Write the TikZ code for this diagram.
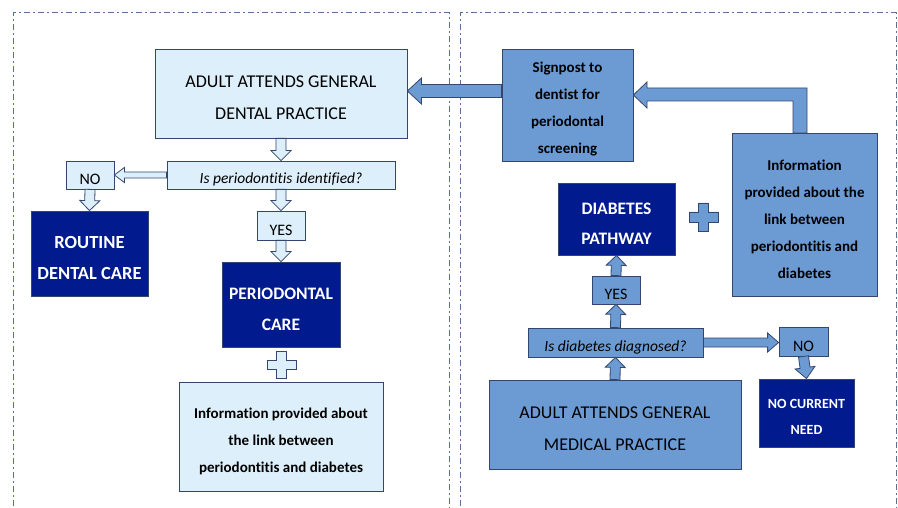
\documentclass[tikz,border=0pt]{standalone}
\usepackage{fontspec}
\setmainfont{Carlito}[Ligatures={NoCommon}]
\usetikzlibrary{calc}
\definecolor{lightfill}{HTML}{DDEFFA}
\definecolor{midfill}{HTML}{6C9BD3}
\definecolor{navyfill}{HTML}{011A8E}
\definecolor{boxline}{HTML}{34466E}
\definecolor{frameline}{HTML}{5A6E9A}
\newcommand{\blockarrow}[6]{% style, start, end, shaft half, head half, head length
  \draw[#1] let \p1=($(#3)!#6!(#2)$) in
    ($(#2)!#4!90:(#3)$) -- ($(\p1)!#4!90:(#3)$) -- ($(\p1)!#5!90:(#3)$) -- (#3)
    -- ($(\p1)!#5!-90:(#3)$) -- ($(\p1)!#4!-90:(#3)$) -- ($(#2)!#4!-90:(#3)$) -- cycle;}
\tikzset{
  x=1pt, y=-1pt,
  box/.style={draw=boxline, line width=0.8pt, inner sep=0pt},
  lbox/.style={box, fill=lightfill},
  mbox/.style={box, fill=midfill},
  nbox/.style={box, fill=navyfill},
  boxtext/.style={align=center, inner sep=0pt, yshift=-4.5pt},
  bigtxt/.style={font=\fontsize{18}{32}\selectfont},
  navytxt/.style={text=white, font=\bfseries\fontsize{17.5}{31}\selectfont},
  qtxt/.style={font=\itshape\fontsize{15.5}{16}\selectfont},
  yntxt/.style={font=\fontsize{16}{16}\selectfont},
  infotxt/.style={font=\bfseries\fontsize{15}{27}\selectfont},
  larrow/.style={draw=boxline, line width=0.8pt, fill=lightfill},
  marrow/.style={draw=boxline, line width=0.8pt, fill=midfill},
  frame/.style={draw=frameline, line width=1pt, dash pattern=on 6pt off 3pt on 2pt off 3pt},
}
\begin{document}
\begin{tikzpicture}
\useasboundingbox (0,0) rectangle (898,508);
\clip (0,0) rectangle (898,508);
\fill[white] (0,0) rectangle (898,508);
% frames
\draw[frame] (13,520) -- (13,13) -- (449,13) -- (449,520);
\draw[frame] (460,520) -- (460,13) -- (896,13) -- (896,520);

% left panel
\node[lbox, minimum width=252pt, minimum height=89pt] (dental) at (281,93.5) {};
\node[boxtext, bigtxt] (dentalT) at (dental) {ADULT ATTENDS GENERAL\\DENTAL PRACTICE};
\node[lbox, minimum width=228pt, minimum height=28pt] (q1) at (281,175) {};
\node[boxtext, qtxt] (q1T) at (q1) {Is periodontitis identified?};
\node[lbox, minimum width=48pt, minimum height=28pt] (no1) at (90,175) {};
\node[boxtext, yntxt] (no1T) at (no1) {NO};
\node[nbox, minimum width=117pt, minimum height=85pt] (routine) at (89.5,253.5) {};
\node[boxtext, navytxt, font=\bfseries\fontsize{18.5}{31}\selectfont] (routineT) at (routine) {ROUTINE\\DENTAL CARE};
\node[lbox, minimum width=48pt, minimum height=29pt] (yes1) at (281,225.5) {};
\node[boxtext, yntxt] (yes1T) at (yes1) {YES};
\node[nbox, minimum width=118pt, minimum height=85pt] (perio) at (281,304.5) {};
\node[boxtext, navytxt] (perioT) at (perio) {PERIODONTAL\\CARE};
\node[lbox, minimum width=204pt, minimum height=109pt] (info1) at (281,436.5) {};
\node[boxtext, infotxt] (info1T) at (info1) {Information provided about\\the link between\\periodontitis and diabetes};
\draw[larrow] (276.5,351) -- (286.5,351) -- (286.5,360) -- (296,360) -- (296,369.5) -- (286.5,369.5) -- (286.5,378) -- (276.5,378) -- (276.5,369.5) -- (267,369.5) -- (267,360) -- (276.5,360) -- cycle;

\blockarrow{larrow}{dental.south}{q1.north}{5pt}{10pt}{10pt}
\blockarrow{larrow}{q1.west}{no1.east}{3pt}{7.5pt}{10pt}
\blockarrow{larrow}{no1.south}{routine.north}{5pt}{10pt}{10pt}
\blockarrow{larrow}{q1.south}{yes1.north}{5pt}{10pt}{10pt}
\blockarrow{larrow}{yes1.south}{perio.north}{5pt}{10pt}{10pt}

% right panel
\node[mbox, minimum width=131pt, minimum height=112pt] (sign) at (567.5,105) {};
\node[boxtext, infotxt] (signT) at (sign) {Signpost to\\dentist for\\periodontal\\screening};
\node[nbox, minimum width=117pt, minimum height=72pt] (diab) at (616.5,219) {};
\node[boxtext, navytxt, font=\bfseries\fontsize{17.5}{30}\selectfont] (diabT) at (diab) {DIABETES\\PATHWAY};
\node[mbox, minimum width=145pt, minimum height=163pt] (info2) at (804.5,214.5) {};
\node[boxtext, infotxt] (info2T) at (info2) {Information\\provided about the\\link between\\periodontitis and\\diabetes};
\node[mbox, minimum width=48pt, minimum height=28pt] (yes2) at (616,290) {};
\node[boxtext, yntxt] (yes2T) at (yes2) {YES};
\node[mbox, minimum width=175pt, minimum height=29pt] (q2) at (615.5,342.5) {};
\node[boxtext, qtxt] (q2T) at (q2) {Is diabetes diagnosed?};
\node[mbox, minimum width=49pt, minimum height=29pt] (no2) at (803.5,341.5) {};
\node[boxtext, yntxt] (no2T) at (no2) {NO};
\node[nbox, minimum width=95pt, minimum height=68pt] (nocur) at (806.5,413) {};
\node[boxtext, navytxt, font=\bfseries\fontsize{14}{26}\selectfont, yshift=1pt] (nocurT) at (nocur) {NO CURRENT\\NEED};
\node[mbox, minimum width=252pt, minimum height=89pt] (medical) at (615,424.5) {};
\node[boxtext, bigtxt] (medicalT) at (medical) {ADULT ATTENDS GENERAL\\MEDICAL PRACTICE};
\draw[marrow] (698.5,203) -- (708.5,203) -- (708.5,212) -- (718,212) -- (718,222) -- (708.5,222) -- (708.5,231) -- (698.5,231) -- (698.5,222) -- (689,222) -- (689,212) -- (698.5,212) -- cycle;

\blockarrow{marrow}{medical.north}{q2.south}{5pt}{10pt}{10pt}
\blockarrow{marrow}{q2.north}{yes2.south}{5pt}{10pt}{10pt}
\blockarrow{marrow}{yes2.north}{diab.south}{5pt}{10pt}{10pt}
\blockarrow{marrow}{q2.east |- 0,342.5}{no2.west |- 0,342.5}{4.5pt}{9.5pt}{11pt}
\blockarrow{marrow}{no2.south}{nocur.north}{5pt}{10pt}{11pt}
\coordinate (bigstart) at ($(sign.west)+(0,-14)$);
\coordinate (bigend) at ($(dental.east)+(0,-2.5)$);
\blockarrow{marrow}{bigstart}{bigend}{6.5pt}{13pt}{14pt}
% bent arrow from info2 to signpost
\coordinate (bentend) at ($(sign.east)+(0,-10)$);
\draw[marrow] (793,133) -- (793,101) -- (647,101) -- (647,108) -- (bentend) -- (647,82) -- (647,88) -- (807,88) -- (807,133) -- cycle;
\end{tikzpicture}
\end{document}
